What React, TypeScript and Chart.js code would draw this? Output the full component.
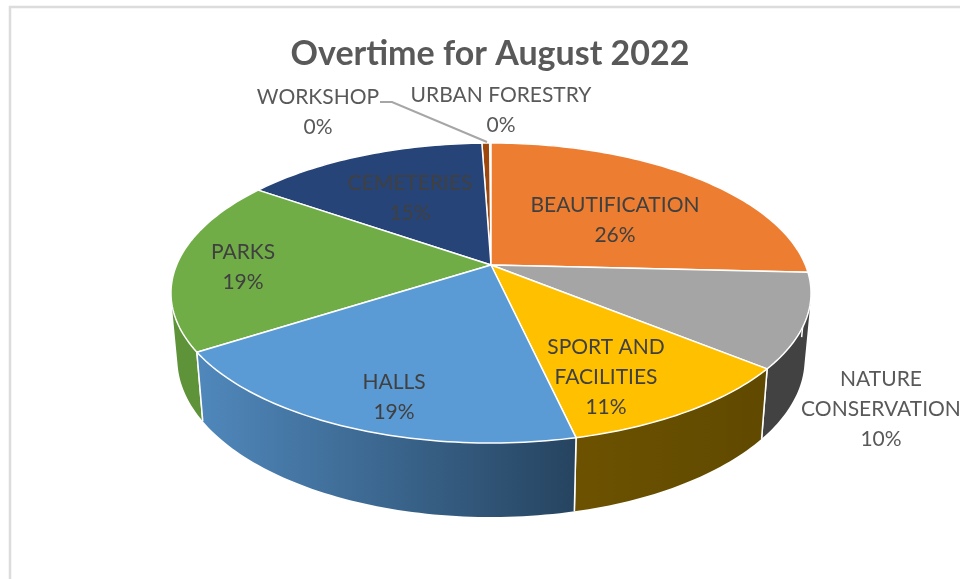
import { useEffect, useRef } from "react";
import { Chart, registerables } from "chart.js";

Chart.register(...registerables);

const chartTitle = "Overtime for August 2022";
const categories = [
  "BEAUTIFICATION",
  "NATURE CONSERVATION",
  "SPORT AND FACILITIES",
  "HALLS",
  "PARKS",
  "CEMETERIES",
  "WORKSHOP",
  "URBAN FORESTRY",
];
const overtimeShare = [25.8, 10.1, 10.55, 19.45, 18.8, 14.75, 0.47, 0.08];
const faceColors = ["#ED7D31", "#A5A5A5", "#FFC000", "#5B9BD5", "#70AD47", "#264478", "#9E480E", "#636363"];
const wallColors = [
  ["#B45F25", "#B45F25"],
  ["#424242", "#424242"],
  ["#6C5200", "#604900"],
  ["#5088BC", "#264460"],
  ["#5E9339", "#5E9339"],
  ["#1C335A", "#1C335A"],
  ["#773609", "#773609"],
  ["#4A4A4A", "#4A4A4A"],
];

// Wrapped label lines and their centre points, one entry per category.
const labelLines = [
  ["BEAUTIFICATION"],
  ["NATURE", "CONSERVATION"],
  ["SPORT AND", "FACILITIES"],
  ["HALLS"],
  ["PARKS"],
  ["CEMETERIES"],
  ["WORKSHOP"],
  ["URBAN FORESTRY"],
];
const labelAnchors = [
  [615, 205],
  [881, 379],
  [606, 347],
  [394, 382],
  [243, 252],
  [410, 183],
  [318, 97],
  [501, 95],
];
const LINE_HEIGHT = 30;
const leaderLine = [
  [380, 102],
  [392, 102],
  [487, 142],
];

// Tilted disc: a projective map of the unit circle with its apex off the ellipse centre.
const APEX_X = 491;
const APEX_Y = 265;
const RADIUS_X = 314.4;
const RADIUS_Y = 144.8;
const TILT = -0.1867;

type Pt = { x: number; y: number };

const topPoint = (a: number): Pt => {
  const u = Math.cos(a);
  const v = Math.sin(a);
  const d = 1 + TILT * v;
  return { x: APEX_X + (RADIUS_X * u) / d, y: APEX_Y + (RADIUS_Y * v) / d };
};

const basePoint = (a: number): Pt => {
  const p = topPoint(a);
  return { x: APEX_X + 0.98 * (p.x - APEX_X), y: 420 + 1.054 * (p.y - 351) };
};

const sweep = (start: number, end: number, fn: (a: number) => Pt): Pt[] => {
  const steps = Math.max(2, Math.ceil((end - start) / 0.02));
  const out: Pt[] = [];
  for (let i = 0; i <= steps; i++) out.push(fn(start + ((end - start) * i) / steps));
  return out;
};

const tracePolygon = (ctx: CanvasRenderingContext2D, pts: Pt[]) => {
  ctx.beginPath();
  pts.forEach((p, i) => (i ? ctx.lineTo(p.x, p.y) : ctx.moveTo(p.x, p.y)));
  ctx.closePath();
};

// Outlines the side wall as a union of same-winding quads so its silhouette follows the tangent.
const traceWall = (ctx: CanvasRenderingContext2D, top: Pt[], base: Pt[]) => {
  ctx.beginPath();
  for (let i = 0; i < top.length - 1; i++) {
    const quad = [top[i], top[i + 1], base[i + 1], base[i]];
    let area = 0;
    quad.forEach((p, n) => {
      const q = quad[(n + 1) % 4];
      area += p.x * q.y - q.x * p.y;
    });
    if (area < 0) quad.reverse();
    quad.forEach((p, n) => (n ? ctx.lineTo(p.x, p.y) : ctx.moveTo(p.x, p.y)));
    ctx.closePath();
  }
};

const framePlugin = {
  id: "frame",
  beforeDraw(chart: Chart) {
    const { ctx } = chart;
    ctx.save();
    ctx.strokeStyle = "#DCDCDC";
    ctx.lineWidth = 2.5;
    ctx.beginPath();
    ctx.moveTo(10, 579);
    ctx.lineTo(10, 7);
    ctx.lineTo(960, 7);
    ctx.stroke();
    ctx.restore();
  },
};

// Replaces the flat pie drawing with an extruded, tilted disc built from the arc angles.
const discPlugin = {
  id: "disc",
  beforeDatasetsDraw(chart: Chart) {
    const { ctx } = chart;
    const arcs = chart.getDatasetMeta(0).data as any[];
    const order = arcs
      .map((arc, i) => ({ i, start: arc.startAngle as number, end: arc.endAngle as number }))
      .sort((p, q) => Math.sin((p.start + p.end) / 2) - Math.sin((q.start + q.end) / 2));

    ctx.save();
    ctx.lineJoin = "round";
    ctx.strokeStyle = "#FFFFFF";
    ctx.lineWidth = 1.5;

    for (const { i, start, end } of order) {
      const top = sweep(start, end, topPoint);
      const base = sweep(start, end, basePoint);
      const xs = [...top, ...base].map((p) => p.x);
      const g = ctx.createLinearGradient(Math.min(...xs), 0, Math.max(...xs), 0);
      g.addColorStop(0, wallColors[i][0]);
      g.addColorStop(1, wallColors[i][1]);
      traceWall(ctx, top, base);
      ctx.fillStyle = g;
      ctx.fill("nonzero");
      ctx.beginPath();
      ctx.moveTo(top[0].x, top[0].y);
      ctx.lineTo(base[0].x, base[0].y);
      ctx.moveTo(top[top.length - 1].x, top[top.length - 1].y);
      ctx.lineTo(base[base.length - 1].x, base[base.length - 1].y);
      ctx.stroke();
    }

    for (const { i, start, end } of order) {
      tracePolygon(ctx, [{ x: APEX_X, y: APEX_Y }, ...sweep(start, end, topPoint)]);
      ctx.fillStyle = faceColors[i];
      ctx.fill();
      ctx.stroke();
    }
    ctx.restore();
    return false;
  },
  afterDraw(chart: Chart) {
    const { ctx } = chart;
    const total = overtimeShare.reduce((s, v) => s + v, 0);
    ctx.save();
    ctx.strokeStyle = "#A6A6A6";
    ctx.lineWidth = 2;
    ctx.beginPath();
    leaderLine.forEach(([x, y], i) => (i ? ctx.lineTo(x, y) : ctx.moveTo(x, y)));
    ctx.stroke();

    ctx.font = "21px Lato";
    ctx.textAlign = "center";
    ctx.textBaseline = "middle";
    categories.forEach((_, i) => {
      const [x, y] = labelAnchors[i];
      const outside = i === 1 || i >= 6;
      ctx.fillStyle = outside ? "#595959" : "#404040";
      const lines = [...labelLines[i], `${Math.round((overtimeShare[i] / total) * 100)}%`];
      lines.forEach((line, n) => ctx.fillText(line, x, y + n * LINE_HEIGHT));
    });
    ctx.restore();
  },
};

export default function App() {
  const canvasRef = useRef<HTMLCanvasElement | null>(null);

  useEffect(() => {
    if (!canvasRef.current) return;
    const chart = new Chart(canvasRef.current, {
      type: "pie",
      data: {
        labels: categories,
        datasets: [{ data: overtimeShare, backgroundColor: faceColors }],
      },
      options: {
        responsive: false,
        animation: false,
        layout: { padding: { left: 20 } },
        plugins: {
          legend: { display: false },
          tooltip: { enabled: false },
          title: {
            display: true,
            text: chartTitle,
            color: "#595959",
            font: { family: "Lato", size: 34, weight: "bold" },
            padding: { top: 34, bottom: 10 },
          },
        },
      },
      plugins: [framePlugin, discPlugin],
    } as any);
    return () => chart.destroy();
  }, []);

  return (
    <canvas
      ref={canvasRef}
      width={960}
      height={579}
      style={{ position: "absolute", left: 0, top: 0, display: "block", background: "#FFFFFF" }}
    />
  );
}
